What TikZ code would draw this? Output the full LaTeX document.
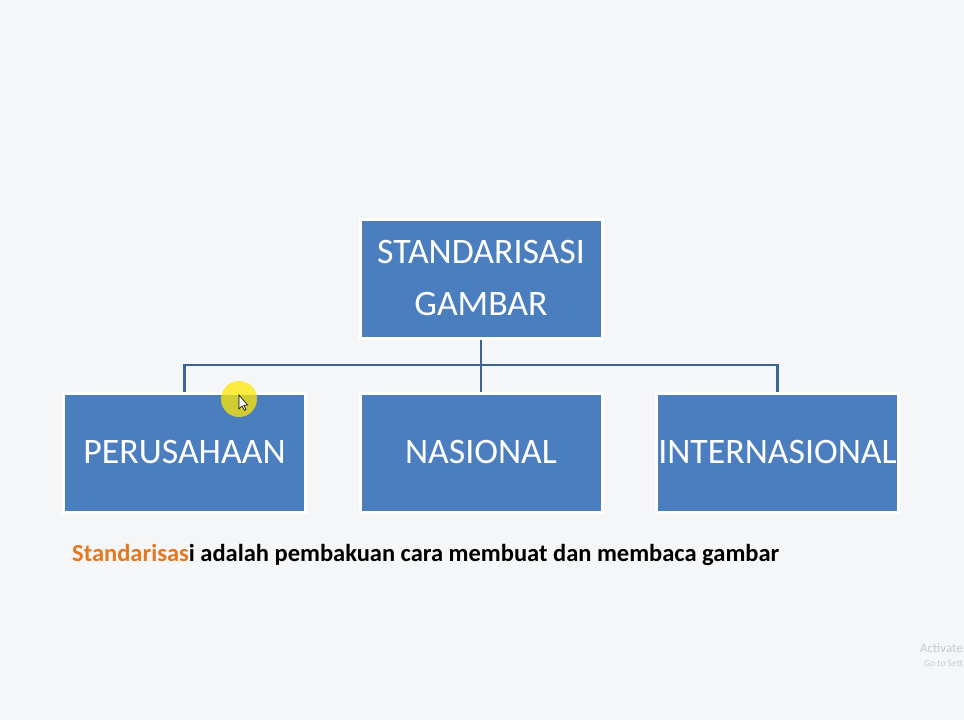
\documentclass[tikz,border=0pt]{standalone}
\usepackage{fontspec}
\setmainfont{Carlito}
\definecolor{bg}{RGB}{244,246,248}
\definecolor{boxblue}{RGB}{74,126,191}
\definecolor{connblue}{RGB}{62,100,150}
\definecolor{orangetxt}{RGB}{228,120,30}
\definecolor{wm}{RGB}{200,202,206}
\tikzset{
  box/.style={rectangle, fill=boxblue, draw=white, line width=3pt,
    minimum width=242pt, minimum height=119pt, inner sep=0pt,
    text=white, align=center, font=\fontsize{35.8}{52}\selectfont},
  conn/.style={draw=connblue, line width=2.5pt},
}
\begin{document}
\begin{tikzpicture}[x=1pt,y=-1pt]
\fill[bg] (0,0) rectangle (964,720);
\useasboundingbox (0,0) rectangle (964,720);
\begin{scope}
\clip (0,0) rectangle (964,720);
\node[box] (top) at (481,278.5) {STANDARISASI\\GAMBAR};
\node[box] (per) at (184.5,452.5) {PERUSAHAAN};
\node[box] (nas) at (481,452.5) {NASIONAL};
\node[box] (int) at (777.5,452.5) {INTERNASIONAL};
\coordinate (j) at (481,365);
\draw[conn] (top.south) -- (nas.north);
\draw[conn] (per.north) -- (per.north |- j) -- (int.north |- j) -- (int.north);
\node[anchor=base west, inner sep=0pt, font=\bfseries\fontsize{24.5}{28}\selectfont] (def) at (72,561)
  {\textcolor{orangetxt}{Standarisas}i adalah pembakuan cara membuat dan membaca gambar};
% pointer highlight
\fill[yellow!90!orange, opacity=0.75] (239,399) circle (18);
\draw[black, fill=white, line width=0.6pt] (239,395) -- (239,409) -- (242,406) -- (244.5,410.5) -- (246,409.5) -- (243.8,405.3) -- (247.5,405) -- cycle;
% watermark
\node[anchor=base east, inner sep=0pt, text=wm, font=\fontsize{13}{15}\selectfont] (wm1) at (963,652) {Activate};
\node[anchor=base east, inner sep=0pt, text=wm, font=\fontsize{9.5}{11}\selectfont] (wm2) at (963,666) {Go to Sett};
\end{scope}
\end{tikzpicture}
\end{document}
